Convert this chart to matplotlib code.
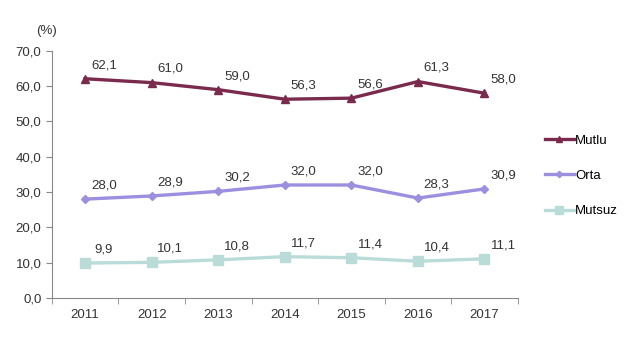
import numpy as np
import matplotlib.pyplot as plt
from matplotlib.ticker import FixedLocator, FuncFormatter

plt.rcParams['font.family'] = ['Liberation Sans', 'DejaVu Sans']

years = ['2011', '2012', '2013', '2014', '2015', '2016', '2017']
mutlu = [62.1, 61.0, 59.0, 56.3, 56.6, 61.3, 58.0]
orta = [28.0, 28.9, 30.2, 32.0, 32.0, 28.3, 30.9]
mutsuz = [9.9, 10.1, 10.8, 11.7, 11.4, 10.4, 11.1]

series = [
    ('Mutlu', mutlu, '#7a2a4c', '^', 6),
    ('Orta', orta, '#9d8fe0', 'D', 4),
    ('Mutsuz', mutsuz, '#b9dcd9', 's', 6.5),
]

fig = plt.figure(figsize=(6.4, 3.39), dpi=100)
ax = fig.add_axes([0.081, 0.121, 0.728, 0.729])

x = np.arange(len(years))
for name, vals, col, mk, ms in series:
    ax.plot(x, vals, color=col, lw=2.4, marker=mk, markersize=ms, label=name)
    for xi, v in zip(x, vals):
        ax.annotate(f'{v:.1f}'.replace('.', ','), (xi, v), xytext=(13.5, 5.5),
                    textcoords='offset points', ha='center', va='bottom',
                    fontsize=9.5, color='#333333')

ax.set_xlim(-0.5, len(years) - 0.5)
ax.set_ylim(0, 70)
ax.set_yticks(np.arange(0, 71, 10))
ax.yaxis.set_major_formatter(FuncFormatter(lambda v, p: f'{v:.1f}'.replace('.', ',')))
ax.set_xticks(x)
ax.set_xticklabels(years)
ax.xaxis.set_minor_locator(FixedLocator(np.arange(-0.5, len(years), 1)))
ax.tick_params(axis='x', which='major', length=0, pad=8, labelsize=9.5, labelcolor='#333333')
ax.tick_params(axis='x', which='minor', length=4, color='#888888')
ax.tick_params(axis='y', length=4, color='#888888', labelsize=9.5, labelcolor='#333333')

for s in ['top', 'right']:
    ax.spines[s].set_visible(False)
for s in ['left', 'bottom']:
    ax.spines[s].set_color('#888888')

fig.text(0.073, 0.9, '(%)', fontsize=9.5, color='#333333', ha='center')

ax.legend(loc='center left', bbox_to_anchor=(0.843, 0.481), bbox_transform=fig.transFigure,
          frameon=False, fontsize=9.5, handlelength=2.2, labelspacing=1.75,
          handletextpad=0.1, borderaxespad=0, markerscale=0.8)

fig.savefig('out.png', dpi=100)
